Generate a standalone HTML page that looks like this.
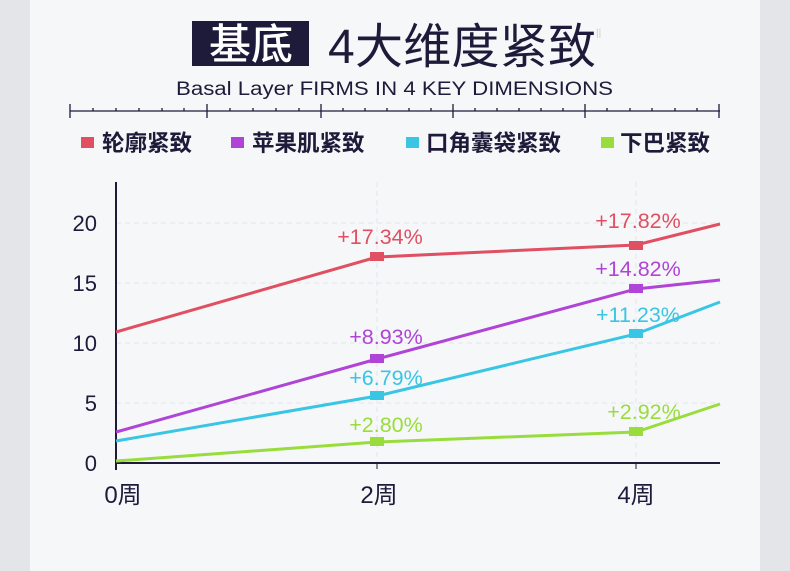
<!DOCTYPE html>
<html><head><meta charset="utf-8"><style>
body{margin:0;width:790px;height:571px;background:#e3e5e9;overflow:hidden}
svg{display:block}
</style></head><body>
<svg width="790" height="571" xmlns="http://www.w3.org/2000/svg" font-family="'Liberation Sans','Noto Sans CJK SC',sans-serif">
<rect x="30" y="0" width="730" height="571" fill="#f6f7f9"/>
<rect x="192" y="21" width="117" height="45" fill="#1e1b3a"/>
<text x="251" y="59" font-size="42" fill="#fff" text-anchor="middle" font-family="'Noto Sans CJK SC',sans-serif" font-weight="500">基底</text>
<text x="328" y="63" font-size="48" fill="#1e1b3a" textLength="268" font-family="'Liberation Sans','Noto Sans CJK SC',sans-serif">4<tspan font-family="'Noto Sans CJK SC',sans-serif">大维度紧致</tspan></text>
<text x="596" y="36" font-size="10" fill="#ccc">||</text>
<text x="176" y="95" font-size="19" fill="#1e1b3a" textLength="437" lengthAdjust="spacingAndGlyphs">Basal Layer FIRMS IN 4 KEY DIMENSIONS</text>
<g stroke="#1e1b3a" stroke-width="1.3">
<line x1="70" y1="111" x2="720" y2="111"/>
<line x1="70" y1="104" x2="70" y2="118"/><line x1="207" y1="104" x2="207" y2="118"/><line x1="321" y1="104" x2="321" y2="118"/><line x1="453" y1="104" x2="453" y2="118"/><line x1="585" y1="104" x2="585" y2="118"/><line x1="719" y1="104" x2="719" y2="118"/>
<line x1="93" y1="108" x2="93" y2="111"/><line x1="116" y1="108" x2="116" y2="111"/><line x1="139" y1="108" x2="139" y2="111"/><line x1="162" y1="108" x2="162" y2="111"/><line x1="184" y1="108" x2="184" y2="111"/>
<line x1="230" y1="108" x2="230" y2="111"/><line x1="253" y1="108" x2="253" y2="111"/><line x1="276" y1="108" x2="276" y2="111"/><line x1="299" y1="108" x2="299" y2="111"/>
<line x1="343" y1="108" x2="343" y2="111"/><line x1="365" y1="108" x2="365" y2="111"/><line x1="387" y1="108" x2="387" y2="111"/><line x1="409" y1="108" x2="409" y2="111"/><line x1="431" y1="108" x2="431" y2="111"/>
<line x1="475" y1="108" x2="475" y2="111"/><line x1="497" y1="108" x2="497" y2="111"/><line x1="519" y1="108" x2="519" y2="111"/><line x1="541" y1="108" x2="541" y2="111"/><line x1="563" y1="108" x2="563" y2="111"/>
<line x1="607" y1="108" x2="607" y2="111"/><line x1="630" y1="108" x2="630" y2="111"/><line x1="652" y1="108" x2="652" y2="111"/><line x1="675" y1="108" x2="675" y2="111"/><line x1="697" y1="108" x2="697" y2="111"/>
</g>
<g font-size="22.5" font-weight="bold" fill="#1e1b3a" font-family="'Noto Sans CJK SC',sans-serif">
<rect x="81" y="137" width="13" height="11" fill="#e04f62"/><text x="102" y="151">轮廓紧致</text>
<rect x="231" y="137" width="13" height="11" fill="#b044d6"/><text x="252" y="151">苹果肌紧致</text>
<rect x="406" y="137" width="13" height="11" fill="#38c6e4"/><text x="426" y="151">口角囊袋紧致</text>
<rect x="601" y="137" width="13" height="11" fill="#99dd3c"/><text x="620" y="151">下巴紧致</text>
</g>
<g stroke="#e4e5ea" stroke-dasharray="5,4" stroke-width="1">
<line x1="116" y1="223" x2="720" y2="223"/><line x1="116" y1="283" x2="720" y2="283"/><line x1="116" y1="343" x2="720" y2="343"/><line x1="116" y1="403" x2="720" y2="403"/>
<line x1="377" y1="182" x2="377" y2="463"/><line x1="636" y1="182" x2="636" y2="463"/>
</g>
<g stroke="#1e1b3a" stroke-width="2"><line x1="116" y1="182" x2="116" y2="470"/><line x1="116" y1="463" x2="720" y2="463"/></g>
<g stroke="#1e1b3a" stroke-width="1"><line x1="377" y1="463" x2="377" y2="469"/><line x1="636" y1="463" x2="636" y2="469"/></g>
<g font-size="22" fill="#1e1b3a" text-anchor="end">
<text x="97" y="231">20</text><text x="97" y="291">15</text><text x="97" y="351">10</text><text x="97" y="411">5</text><text x="97" y="471">0</text>
</g>
<g font-size="24" fill="#1e1b3a" text-anchor="middle">
<text x="123" y="503">0<tspan font-family="'Noto Sans CJK SC',sans-serif">周</tspan></text>
<text x="379" y="503">2<tspan font-family="'Noto Sans CJK SC',sans-serif">周</tspan></text>
<text x="636" y="503">4<tspan font-family="'Noto Sans CJK SC',sans-serif">周</tspan></text>
</g>
<g fill="none" stroke-width="3">
<polyline stroke="#e04f62" points="116,332 377,257 636,245 720,224"/>
<polyline stroke="#b044d6" points="116,432 377,359 636,289 720,280"/>
<polyline stroke="#38c6e4" points="116,441 377,396 636,334 720,302"/>
<polyline stroke="#99dd3c" points="116,461 377,442 636,432 720,404"/>
</g>
<rect x="370" y="252" width="14" height="9" fill="#e04f62"/><rect x="629" y="241" width="14" height="9" fill="#e04f62"/>
<rect x="370" y="354" width="14" height="9" fill="#b044d6"/><rect x="629" y="284" width="14" height="9" fill="#b044d6"/>
<rect x="370" y="391" width="14" height="9" fill="#38c6e4"/><rect x="629" y="329" width="14" height="9" fill="#38c6e4"/>
<rect x="370" y="437" width="14" height="9" fill="#99dd3c"/><rect x="629" y="427" width="14" height="9" fill="#99dd3c"/>
<g font-size="21.5" text-anchor="middle">
<text x="380" y="244" fill="#e04f62">+17.34%</text><text x="638" y="228" fill="#e04f62">+17.82%</text>
<text x="386" y="344" fill="#b044d6">+8.93%</text><text x="638" y="276" fill="#b044d6">+14.82%</text>
<text x="386" y="385" fill="#38c6e4">+6.79%</text><text x="638" y="322" fill="#38c6e4">+11.23%</text>
<text x="386" y="432" fill="#99dd3c">+2.80%</text><text x="644" y="419" fill="#99dd3c">+2.92%</text>
</g>
</svg>
</body></html>
